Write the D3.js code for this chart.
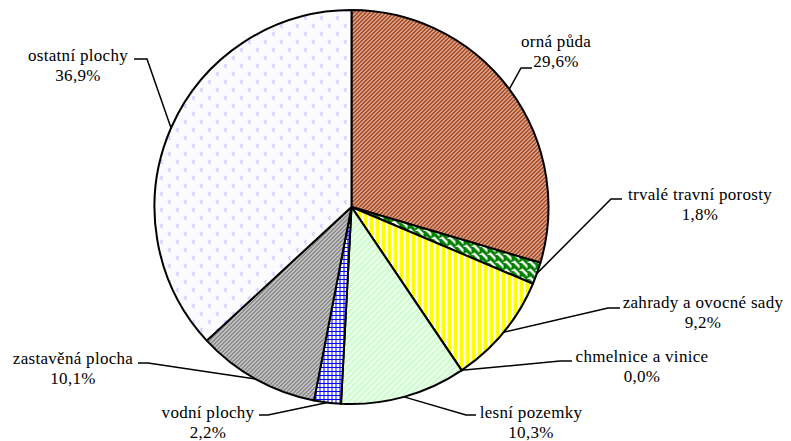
<!DOCTYPE html>
<html lang="cs">
<head>
<meta charset="UTF-8" />
<title>Struktura půdního fondu</title>
<style>
  body { margin: 0; background: #fff; }
  svg { display: block; }
  .leader { fill: none; stroke: #000; stroke-width: 1.5; }
  .slice { stroke: #000; stroke-width: 2; stroke-linejoin: round; }
</style>
</head>
<body>
<script src="https://cdn.jsdelivr.net/npm/d3@7"></script>
<script>
// land use categories and their share (%)
var categories = ["orná půda", "trvalé travní porosty", "zahrady a ovocné sady",
                  "chmelnice a vinice", "lesní pozemky", "vodní plochy",
                  "zastavěná plocha", "ostatní plochy"];
var shares = [29.6, 1.8, 9.2, 0.0, 10.3, 2.2, 10.1, 36.9];
var shareLabels = ["29,6%", "1,8%", "9,2%", "0,0%", "10,3%", "2,2%", "10,1%", "36,9%"];

// label layout: text centre x, first baseline y, leader elbow and horizontal end
var labelLayout = [
  { x: 556, y: 47,  elbow: [521, 68],  end: [532, 68] },
  { x: 700, y: 200, elbow: [611, 199], end: [622, 199] },
  { x: 703, y: 308, elbow: [608, 308], end: [620, 308] },
  { x: 642, y: 362, elbow: [560, 361], end: [572, 361] },
  { x: 531, y: 418, elbow: [466, 415], end: [476, 415] },
  { x: 208, y: 418, elbow: [268, 415], end: [259, 415] },
  { x: 73,  y: 364, elbow: [148, 363], end: [138, 363] },
  { x: 78,  y: 61,  elbow: [147, 59],  end: [134, 59] }
];

var w = 791, h = 441;
var cx = 351.5, cy = 207, r = 197;

var svg = d3.select("body").append("svg")
  .attr("width", w)
  .attr("height", h);

var defs = svg.append("defs");

// orná půda - brown upward diagonal
var p = defs.append("pattern").attr("id", "p0").attr("patternUnits", "userSpaceOnUse")
  .attr("width", 4).attr("height", 4);
p.append("rect").attr("width", 4).attr("height", 4).attr("fill", "#fff");
p.append("path").attr("d", "M-1,1 l2,-2 M0,4 l4,-4 M3,5 l2,-2")
  .attr("stroke", "#a8441a").attr("stroke-width", 2);

// trvalé travní porosty - green wide downward diagonal
p = defs.append("pattern").attr("id", "p1").attr("patternUnits", "userSpaceOnUse")
  .attr("width", 8).attr("height", 8);
p.append("rect").attr("width", 8).attr("height", 8).attr("fill", "#fff");
p.append("path").attr("d", "M-2,2 l4,4 M0,0 l8,8 M6,-2 l4,4")
  .attr("stroke", "#008000").attr("stroke-width", 3.2);

// zahrady - yellow with white verticals
p = defs.append("pattern").attr("id", "p2").attr("patternUnits", "userSpaceOnUse")
  .attr("width", 6).attr("height", 6);
p.append("rect").attr("width", 6).attr("height", 6).attr("fill", "#ffff00");
p.append("rect").attr("x", 4).attr("width", 2).attr("height", 6).attr("fill", "#fff");

// chmelnice - empty slice
p = defs.append("pattern").attr("id", "p3").attr("patternUnits", "userSpaceOnUse")
  .attr("width", 4).attr("height", 4);
p.append("rect").attr("width", 4).attr("height", 4).attr("fill", "#fff");

// lesní pozemky - light green upward diagonal
p = defs.append("pattern").attr("id", "p4").attr("patternUnits", "userSpaceOnUse")
  .attr("width", 6).attr("height", 6);
p.append("rect").attr("width", 6).attr("height", 6).attr("fill", "#fff");
p.append("path").attr("d", "M-1.5,1.5 l3,-3 M0,6 l6,-6 M4.5,7.5 l3,-3")
  .attr("stroke", "#ccffcc").attr("stroke-width", 2.8);

// vodní plochy - blue grid
p = defs.append("pattern").attr("id", "p5").attr("patternUnits", "userSpaceOnUse")
  .attr("width", 4).attr("height", 4);
p.append("rect").attr("width", 4).attr("height", 4).attr("fill", "#fff");
p.append("path").attr("d", "M0,0.5 h4 M0.5,0 v4")
  .attr("stroke", "#0000ff").attr("stroke-width", 1);

// zastavěná plocha - gray diagonal
p = defs.append("pattern").attr("id", "p6").attr("patternUnits", "userSpaceOnUse")
  .attr("width", 4).attr("height", 4);
p.append("rect").attr("width", 4).attr("height", 4).attr("fill", "#fff");
p.append("path").attr("d", "M-1,1 l2,-2 M0,4 l4,-4 M3,5 l2,-2")
  .attr("stroke", "#858585").attr("stroke-width", 2);

// ostatní plochy - light blue divots
p = defs.append("pattern").attr("id", "p7").attr("patternUnits", "userSpaceOnUse")
  .attr("width", 16).attr("height", 16);
p.append("rect").attr("width", 16).attr("height", 16).attr("fill", "#fcfcff");
p.append("path").attr("d", "M3,1 l-2,2 l2,2 M11,9 l-2,2 l2,2")
  .attr("fill", "none").attr("stroke", "#c0c0ff").attr("stroke-width", 1.2);

var data = categories.map(function(c, i) {
  return { name: c, value: shares[i], label: shareLabels[i], i: i };
});

var pie = d3.pie()
  .sort(null)
  .value(function(d) { return d.value; });

var arcs = pie(data);

var arc = d3.arc()
  .innerRadius(0)
  .outerRadius(r);

var g = svg.append("g")
  .attr("transform", "translate(" + cx + "," + cy + ")");

g.selectAll("path.slice")
  .data(arcs)
  .enter()
  .append("path")
  .attr("class", "slice")
  .attr("fill", function(d) { return "url(#p" + d.data.i + ")"; })
  .attr("d", arc);

// leader lines from the slice edge at mid angle
svg.selectAll("path.leader")
  .data(arcs)
  .enter()
  .append("path")
  .attr("class", "leader")
  .attr("d", function(d) {
    var a = (d.startAngle + d.endAngle) / 2;
    var px = cx + r * Math.sin(a), py = cy - r * Math.cos(a);
    var L = labelLayout[d.data.i];
    return "M" + px + "," + py + "L" + L.elbow[0] + "," + L.elbow[1] +
           "L" + L.end[0] + "," + L.end[1];
  });

var labels = svg.selectAll("text.lbl")
  .data(data)
  .enter()
  .append("text")
  .attr("class", "lbl")
  .attr("font-family", "Liberation Serif, serif")
  .attr("font-size", 17)
  .attr("letter-spacing", 0.3)
  .attr("fill", "#000")
  .attr("text-anchor", "middle");

labels.append("tspan")
  .attr("x", function(d) { return labelLayout[d.i].x; })
  .attr("y", function(d) { return labelLayout[d.i].y; })
  .text(function(d) { return d.name; });

labels.append("tspan")
  .attr("x", function(d) { return labelLayout[d.i].x; })
  .attr("y", function(d) { return labelLayout[d.i].y + 20; })
  .text(function(d) { return d.label; });
</script>
</body>
</html>
